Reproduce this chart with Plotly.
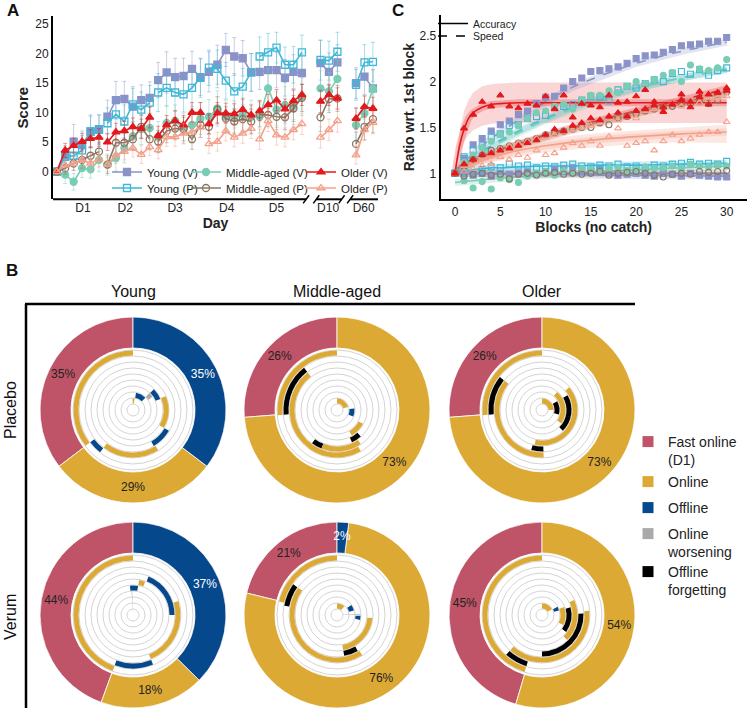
import plotly.graph_objects as go

W, H = 750, 711
FONT = "Liberation Sans, Arial, sans-serif"


def fx(p):
    return p / W


def fy(p):
    return 1 - p / H


def rgba(hexc, a):
    h = hexc.lstrip("#")
    return "rgba(%d,%d,%d,%s)" % (int(h[0:2], 16), int(h[2:4], 16), int(h[4:6], 16), a)


# ---------------- colours ----------------
C_YV = "#8b92c8"
C_YP = "#3fb7d6"
C_MV = "#79cdb4"
C_MP = "#8a7662"
C_OV = "#e3191c"
C_OP = "#f4a18b"
C_FAST = "#bf5468"
C_ON = "#dca935"
C_OFF = "#06488c"
C_WOR = "#aaaaaa"
C_FORG = "#000000"

# ---------------- Panel A data ----------------
group_names = ["Young (V)", "Young (P)", "Middle-aged (V)", "Middle-aged (P)", "Older (V)", "Older (P)"]
session_x = [[0, 1, 2, 3, 4, 5], [6, 7, 8, 9, 10, 11], [12, 13, 14, 15, 16, 17],
             [18, 19, 20, 21, 22, 23], [24, 25, 26, 27, 28, 29],
             [31.2, 32.2, 33.2], [35.4, 36.4, 37.4]]
day_labels = ["D1", "D2", "D3", "D4", "D5", "D10", "D60"]
day_tick_pos = [3.1, 8.1, 14.0, 20.1, 26.0, 32.1, 36.3]

score_young_v = [[0, 2.6, 5.1, 4.5, 6.8, 7.2], [9.3, 12.1, 12.3, 11.0, 12.1, 12.5],
                 [15.5, 16.8, 16.0, 16.2, 17.4, 16.0], [16.9, 18.1, 20.6, 19.5, 19.2, 16.8],
                 [16.9, 17.2, 17.2, 15.9, 16.9, 16.7], [18.4, 16.9, 18.5], [15.0, 16.1, 14.1]]
score_young_p = [[0, 2.5, 2.7, 3.6, 6.8, 7.1], [8.2, 9.7, 8.5, 11.4, 10.5, 11.7],
                 [13.4, 14.2, 13.4, 13.1, 14.2, 15.9], [17.6, 17.4, 15.4, 13.6, 14.4, 16.8],
                 [19.5, 20.2, 21.0, 18.1, 18.1, 20.2], [18.9, 18.8, 20.3], [14.7, 18.5, 18.6]]
score_middle_v = [[0, -0.5, -1.7, 0.6, 0.4, 2.0], [1.2, 2.3, 4.0, 6.0, 7.2, 7.4],
                  [5.9, 8.2, 8.6, 7.3, 7.9, 9.0], [9.3, 10.7, 9.3, 9.3, 9.6, 9.3],
                  [9.3, 14.1, 10.5, 11.3, 11.0, 12.7], [14.1, 13.6, 15.7], [7.9, 9.9, 14.0]]
score_middle_p = [[0, 0.6, 1.4, 2.0, 2.7, 3.4], [1.2, 4.9, 4.9, 5.5, 7.6, 5.5],
                  [5.1, 6.9, 7.3, 7.2, 5.5, 7.9], [7.6, 10.5, 9.0, 8.5, 8.9, 8.5],
                  [9.7, 9.6, 9.3, 9.2, 10.7, 12.5], [9.2, 12.3, 12.4], [4.7, 7.6, 8.9]]
score_older_v = [[0, 3.6, 4.4, 5.1, 5.6, 5.8], [5.0, 6.7, 6.9, 7.6, 7.3, 9.2],
                 [6.1, 7.9, 8.6, 7.9, 10.0, 10.0], [8.1, 9.9, 9.9, 9.8, 10.5, 9.6],
                 [10.3, 11.3, 12.1, 10.6, 12.0, 13.0], [11.9, 13.0, 12.4], [9.0, 11.0, 10.7]]
score_older_p = [[0, 1.1, 1.4, 2.0, 1.4, 2.1], [1.2, 2.8, 3.4, 4.0, 2.9, 4.2],
                 [3.7, 5.9, 5.9, 6.5, 6.7, 7.5], [4.7, 5.1, 6.9, 5.8, 6.5, 7.3],
                 [5.5, 8.6, 6.2, 5.8, 7.1, 8.1], [5.8, 7.1, 8.6], [2.8, 7.1, 8.3]]

err_young_v = [[0, 1.8, 2.9, 2.4, 2.6, 2.4], [2.8, 3.2, 3.0, 3.1, 2.6, 2.7], [3.0, 3.5, 3.2, 3.0, 3.0, 3.1],
               [3.4, 3.3, 2.8, 3.2, 3.0, 3.2], [3.0, 3.2, 3.0, 3.1, 2.9, 3.2], [3.8, 3.2, 3.0], [2.6, 3.0, 3.2]]
err_young_p = [[0, 1.5, 2.0, 2.5, 2.8, 2.5], [2.6, 3.0, 2.8, 3.0, 3.0, 2.9], [3.2, 3.0, 3.1, 3.0, 3.2, 3.3],
               [3.0, 3.2, 3.1, 3.0, 3.1, 3.2], [3.3, 3.2, 2.6, 3.0, 3.1, 2.9], [3.4, 3.3, 3.3], [2.6, 3.0, 3.3]]
err_middle_v = [[0, 1.5, 1.4, 1.6, 1.5, 2.0], [1.8, 2.2, 2.5, 2.4, 2.6, 2.5], [2.6, 2.8, 2.7, 2.6, 2.8, 2.7],
                [2.9, 3.0, 2.8, 2.7, 2.9, 2.8], [2.8, 3.4, 3.0, 3.1, 3.0, 3.2], [3.0, 3.2, 3.1], [2.8, 3.0, 3.2]]
err_middle_p = [[0, 1.0, 1.2, 1.4, 1.5, 1.6], [1.5, 1.8, 1.7, 1.9, 2.0, 1.8], [1.9, 2.0, 1.9, 2.0, 1.7, 2.1],
                [2.0, 2.2, 2.0, 2.1, 2.0, 2.1], [2.1, 2.0, 2.2, 2.1, 2.2, 2.3], [2.4, 2.3, 2.2], [2.0, 2.2, 2.3]]
err_older_v = [[0, 1.2, 1.3, 1.4, 1.5, 1.5], [1.4, 1.5, 1.6, 1.5, 1.6, 1.7], [1.6, 1.6, 1.7, 1.6, 1.7, 1.7],
               [1.7, 1.8, 1.7, 1.7, 1.8, 1.7], [1.7, 1.8, 1.8, 1.7, 1.8, 1.8], [1.9, 1.8, 1.8], [1.8, 1.8, 1.9]]
err_older_p = [[0, 1.0, 1.1, 1.2, 1.2, 1.3], [1.2, 1.4, 1.4, 1.5, 1.5, 1.5], [1.5, 1.6, 1.6, 1.7, 1.6, 1.7],
               [1.6, 1.6, 1.7, 1.6, 1.7, 1.7], [1.7, 1.8, 1.7, 1.6, 1.7, 1.8], [1.8, 1.8, 1.9], [1.5, 1.8, 1.9]]

# ---------------- Panel C data ----------------
block_x = list(range(31))
speed_young_v = [1.0, 1.16, 1.31, 1.38, 1.46, 1.53, 1.57, 1.64, 1.68, 1.76, 1.83, 1.84, 1.93, 2.0, 2.04, 2.11,
                 2.12, 2.14, 2.16, 2.2, 2.25, 2.28, 2.29, 2.32, 2.35, 2.39, 2.4, 2.41, 2.44, 2.44, 2.48]
acc_young_v = [1.0, 0.99, 0.98, 1.0, 0.97, 1.0, 0.99, 1.0, 1.01, 1.0, 1.02, 1.04, 1.05, 1.06, 1.03, 1.02,
               1.04, 1.0, 0.98, 0.99, 1.0, 0.98, 0.97, 1.0, 0.99, 0.97, 1.0, 0.98, 0.97, 0.96, 0.96]
speed_young_p = [1.0, 1.18, 1.25, 1.3, 1.4, 1.43, 1.52, 1.53, 1.6, 1.62, 1.63, 1.72, 1.73, 1.75, 1.8, 1.84,
                 1.83, 1.79, 1.91, 1.95, 1.93, 1.98, 2.02, 2.0, 2.09, 2.11, 2.08, 2.13, 2.07, 2.12, 2.15]
acc_young_p = [1.0, 1.02, 1.0, 1.04, 1.07, 1.06, 1.1, 1.08, 1.09, 1.06, 1.08, 1.07, 1.09, 1.1, 1.08, 1.07,
               1.09, 1.08, 1.1, 1.07, 1.08, 1.06, 1.09, 1.08, 1.1, 1.11, 1.12, 1.1, 1.11, 1.1, 1.13]
speed_middle_v = [1.0, 1.12, 1.2, 1.28, 1.35, 1.42, 1.45, 1.52, 1.6, 1.66, 1.68, 1.73, 1.75, 1.7, 1.8, 1.85,
                  1.85, 1.9, 1.88, 1.95, 2.0, 1.98, 2.02, 2.07, 2.1, 2.0, 2.18, 2.14, 2.12, 2.15, 2.24]
acc_middle_v = [1.0, 0.92, 0.84, 0.91, 0.83, 0.95, 0.93, 0.9, 0.97, 1.0, 1.02, 0.98, 1.03, 1.0, 1.05, 1.04,
                1.02, 1.05, 1.06, 1.03, 1.04, 1.07, 1.05, 1.06, 1.08, 1.05, 1.1, 1.08, 1.07, 1.09, 1.08]
speed_middle_p = [1.0, 1.08, 1.15, 1.2, 1.25, 1.27, 1.3, 1.33, 1.35, 1.38, 1.42, 1.44, 1.46, 1.48, 1.5, 1.5,
                  1.55, 1.53, 1.6, 1.62, 1.65, 1.68, 1.7, 1.72, 1.73, 1.76, 1.76, 1.78, 1.76, 1.8, 1.89]
acc_middle_p = [1.0, 0.97, 0.99, 1.0, 0.98, 0.99, 0.94, 0.99, 1.0, 0.98, 1.0, 1.01, 0.99, 1.0, 0.99, 1.0,
                1.02, 0.98, 1.0, 1.01, 1.02, 1.0, 0.98, 0.96, 0.99, 1.0, 0.99, 1.02, 1.01, 1.02, 1.03]
speed_older_v = [1.0, 1.1, 1.15, 1.2, 1.22, 1.25, 1.27, 1.3, 1.33, 1.36, 1.42, 1.48, 1.46, 1.52, 1.55, 1.6,
                 1.58, 1.62, 1.66, 1.62, 1.68, 1.7, 1.74, 1.72, 1.75, 1.8, 1.78, 1.83, 1.86, 1.88, 1.9]
acc_older_v = [1.0, 1.49, 1.64, 1.78, 1.73, 1.85, 1.73, 1.71, 1.76, 1.74, 1.84, 1.7, 1.85, 1.61, 1.76, 1.74,
               1.72, 1.85, 1.77, 1.78, 1.84, 1.91, 1.78, 1.67, 1.75, 1.86, 1.72, 1.89, 1.75, 1.88, 1.93]
speed_older_p = [1.0, 1.08, 1.12, 1.18, 1.22, 1.25, 1.3, 1.33, 1.35, 1.38, 1.4, 1.42, 1.45, 1.47, 1.5, 1.52,
                 1.55, 1.6, 1.58, 1.62, 1.6, 1.68, 1.7, 1.72, 1.75, 1.73, 1.78, 1.77, 1.8, 1.82, 1.84]
acc_older_p = [1.0, 1.02, 1.05, 1.08, 1.1, 1.18, 1.15, 1.2, 1.17, 1.25, 1.2, 1.22, 1.28, 1.33, 1.3, 1.35,
               1.3, 1.4, 1.49, 1.3, 1.33, 1.35, 1.25, 1.35, 1.42, 1.35, 1.38, 1.42, 1.45, 1.45, 1.56]

fit_x = [0, 0.5, 1, 1.5, 2, 3, 4, 5, 7, 10, 13, 16, 20, 25, 30]
fit_speed_young_v = [1.0, 1.07, 1.12, 1.17, 1.22, 1.3, 1.38, 1.45, 1.58, 1.78, 1.94, 2.06, 2.2, 2.33, 2.43]
fit_speed_young_p = [1.0, 1.05, 1.09, 1.13, 1.17, 1.24, 1.3, 1.36, 1.46, 1.6, 1.72, 1.82, 1.93, 2.04, 2.13]
fit_speed_middle_v = [1.0, 1.05, 1.09, 1.13, 1.16, 1.22, 1.28, 1.34, 1.44, 1.58, 1.7, 1.8, 1.92, 2.04, 2.14]
fit_speed_older_v = [1.0, 1.04, 1.07, 1.1, 1.13, 1.18, 1.22, 1.26, 1.32, 1.42, 1.5, 1.58, 1.68, 1.8, 1.92]
fit_speed_middle_p = [1.0, 1.04, 1.07, 1.1, 1.12, 1.17, 1.21, 1.25, 1.31, 1.4, 1.48, 1.56, 1.66, 1.77, 1.87]
fit_speed_older_p = [1.0, 1.04, 1.07, 1.09, 1.11, 1.16, 1.2, 1.24, 1.3, 1.39, 1.47, 1.55, 1.65, 1.76, 1.86]
fit_acc_older_v = [1.0, 1.3, 1.48, 1.6, 1.66, 1.72, 1.75, 1.76, 1.77, 1.77, 1.77, 1.77, 1.77, 1.77, 1.77]
band_lo_acc_older_v = [1.0, 1.2, 1.35, 1.42, 1.47, 1.52, 1.54, 1.55, 1.55, 1.55, 1.55, 1.55, 1.55, 1.55, 1.55]
band_hi_acc_older_v = [1.05, 1.45, 1.68, 1.8, 1.88, 1.95, 1.97, 1.98, 1.99, 1.99, 1.99, 1.99, 1.99, 1.99, 1.99]
fit_acc_older_p = [1.0, 1.03, 1.06, 1.08, 1.1, 1.14, 1.17, 1.2, 1.25, 1.3, 1.34, 1.37, 1.4, 1.43, 1.45]
band_lo_acc_older_p = [1.0, 1.01, 1.03, 1.05, 1.07, 1.1, 1.12, 1.14, 1.18, 1.23, 1.26, 1.29, 1.32, 1.34, 1.33]
band_hi_acc_older_p = [1.0, 1.05, 1.09, 1.11, 1.13, 1.18, 1.22, 1.25, 1.31, 1.37, 1.41, 1.44, 1.47, 1.5, 1.53]
fit_acc_young_p = [1.0, 1.01, 1.02, 1.03, 1.04, 1.05, 1.06, 1.06, 1.07, 1.08, 1.08, 1.09, 1.09, 1.1, 1.11]
fit_acc_middle_v = [0.9, 0.905, 0.91, 0.915, 0.92, 0.93, 0.94, 0.95, 0.96, 0.98, 1.0, 1.02, 1.04, 1.06, 1.08]
fit_acc_middle_p = [1.0, 1.0, 1.0, 1.0, 1.0, 1.0, 1.0, 1.0, 1.0, 1.0, 1.0, 1.0, 1.0, 1.0, 1.0]
fit_acc_young_v = [1.0, 1.0, 1.0, 1.0, 0.995, 0.995, 0.99, 0.99, 0.99, 0.99, 0.985, 0.98, 0.98, 0.975, 0.97]

# ---------------- Panel B data ----------------
# order of cells: Young placebo, Middle placebo, Older placebo, Young verum, Middle verum, Older verum
cell_centers = [(133, 410), (337, 410), (542, 410), (133, 615), (337, 615), (542, 615)]
pct_fast_online = [35, 26, 26, 44, 21, 45]
pct_online = [29, 73, 73, 18, 76, 54]
pct_offline = [35, 0, 0, 37, 2, 0]
# spiral segments: (track_from, track_to, start_deg, end_deg, kind), angles counter-clockwise from 12 o'clock
spiral_young_placebo = [(9, 9, 0, 127, "on"), (8, 8, 127, 142, "off"), (7, 7, 142, 212, "on"),
                        (6, 6, 210, 240, "off"), (5, 5, 240, 293, "on"), (4, 4, 292, 315, "off"),
                        (3, 3, 304, 316, "wor"), (2, 2, 315, 350, "off"), (1, 1, 352, 362, "on")]
spiral_middle_placebo = [(9, 9, 0, 95, "on"), (8, 8, 38, 95, "forg"), (7, 7, 38, 210, "on"),
                         (6, 6, 143, 158, "forg"), (6, 6, 158, 215, "on"), (5, 5, 205, 222, "forg"),
                         (4, 4, 210, 242, "on"), (2, 2, 248, 275, "off"), (1, 1, 285, 360, "on")]
spiral_older_placebo = [(9, 9, 0, 95, "on"), (8, 8, 52, 95, "forg"), (7, 7, 52, 182, "on"),
                        (6, 6, 165, 182, "forg"), (5, 5, 168, 310, "on"), (4, 4, 225, 300, "forg"),
                        (3, 3, 235, 320, "on"), (2, 2, 255, 300, "forg"), (1, 1, 270, 360, "on")]
spiral_young_verum = [(9, 9, 0, 160, "on"), (8, 8, 160, 202, "off"), (7, 7, 202, 287, "on"),
                      (6, 6, 270, 338, "off"), (5, 5, 340, 350, "on"), (4, 4, 350, 366, "off"),
                      (0, 3, 2, 3.5, "wor")]
spiral_middle_verum = [(9, 9, 0, 77, "on"), (8, 8, 55, 80, "forg"), (7, 7, 55, 212, "on"),
                       (6, 6, 190, 210, "forg"), (5, 5, 190, 265, "on"), (3, 3, 258, 268, "off"),
                       (1, 3, 270, 272, "wor"), (2, 2, 285, 305, "off"), (1, 1, 320, 360, "on")]
spiral_older_verum = [(9, 9, 0, 163, "on"), (8, 8, 138, 163, "forg"), (7, 7, 138, 275, "on"),
                      (6, 6, 180, 272, "forg"), (5, 5, 225, 295, "on"), (4, 4, 235, 285, "forg"),
                      (3, 3, 245, 290, "on"), (2, 2, 285, 298, "off"), (1, 1, 300, 360, "on")]
spirals = [spiral_young_placebo, spiral_middle_placebo, spiral_older_placebo,
           spiral_young_verum, spiral_middle_verum, spiral_older_verum]
legend_b_names = ["Fast online<br>(D1)", "Online", "Offline", "Online<br>worsening", "Offline<br>forgetting"]
legend_b_colors = [C_FAST, C_ON, C_OFF, C_WOR, C_FORG]
KIND_COLOR = {"on": C_ON, "off": C_OFF, "wor": C_WOR, "forg": C_FORG}

fig = go.Figure()
legend_layouts = {}

# ---------------- Panel A traces ----------------
A_series = [
    (group_names[0], score_young_v, err_young_v, C_YV, "square", (148, 172)),
    (group_names[1], score_young_p, err_young_p, C_YP, "square-open", (148, 188)),
    (group_names[2], score_middle_v, err_middle_v, C_MV, "circle", (227, 172)),
    (group_names[3], score_middle_p, err_middle_p, C_MP, "circle-open", (227, 188)),
    (group_names[4], score_older_v, err_older_v, C_OV, "triangle-up", (342, 172)),
    (group_names[5], score_older_p, err_older_p, C_OP, "triangle-up-open", (342, 188)),
]
lid = 0
for name, scores, errs, col, sym, (tx, ty) in A_series:
    xs, ys, es = [], [], []
    for sx, sv, se in zip(session_x, scores, errs):
        xs += list(sx) + [None]
        ys += list(sv) + [None]
        es += list(se) + [0]
    lid += 1
    lname = "legend" if lid == 1 else "legend%d" % lid
    fig.add_trace(go.Scatter(
        x=xs, y=ys, mode="lines+markers", name=name, legend=lname,
        line=dict(color=col, width=1.6),
        marker=dict(symbol=sym, size=7, color=col, line=dict(color=col, width=1.3)),
        error_y=dict(type="data", array=es, color=rgba(col, 0.45), thickness=1, width=2),
        xaxis="x", yaxis="y", hoverinfo="skip"))
    legend_layouts[lname] = dict(x=fx(tx - 41), y=fy(ty), xanchor="left", yanchor="middle",
                                 font=dict(size=11.5, family=FONT, color="#222"))

# ---------------- Panel C traces ----------------
bands = [
    (band_lo_acc_older_v, band_hi_acc_older_v, C_OV, 0.18),
    (band_lo_acc_older_p, band_hi_acc_older_p, C_OP, 0.25),
]
for lo, hi, col, a in bands:
    fig.add_trace(go.Scatter(x=fit_x + fit_x[::-1], y=hi + lo[::-1], fill="toself",
                             fillcolor=rgba(col, a), line=dict(width=0), mode="lines",
                             showlegend=False, hoverinfo="skip", xaxis="x2", yaxis="y2"))

fits = [
    (fit_speed_young_v, C_YV, "dash"), (fit_speed_young_p, C_YP, "dash"),
    (fit_speed_middle_v, C_MV, "dash"), (fit_speed_older_v, C_OV, "dash"),
    (fit_speed_middle_p, C_MP, "dash"), (fit_speed_older_p, C_OP, "dash"),
    (fit_acc_older_v, C_OV, "solid"), (fit_acc_older_p, C_OP, "solid"),
    (fit_acc_young_p, C_YP, "solid"), (fit_acc_middle_v, C_MV, "solid"),
    (fit_acc_middle_p, C_MP, "solid"), (fit_acc_young_v, C_YV, "solid"),
]
for fy_vals, col, dash in fits:
    # thin confidence shading around each fit
    fig.add_trace(go.Scatter(x=fit_x, y=fy_vals, mode="lines", line=dict(color=rgba(col, 0.25), width=7),
                             showlegend=False, hoverinfo="skip", xaxis="x2", yaxis="y2"))
    fig.add_trace(go.Scatter(x=fit_x, y=fy_vals, mode="lines", line=dict(color=col, width=1.6, dash=dash, shape="spline"),
                             showlegend=False, hoverinfo="skip", xaxis="x2", yaxis="y2"))

points = [
    (acc_young_v, C_YV, "square"), (speed_young_v, C_YV, "square"),
    (acc_young_p, C_YP, "square-open"), (speed_young_p, C_YP, "square-open"),
    (acc_middle_v, C_MV, "circle"), (speed_middle_v, C_MV, "circle"),
    (acc_middle_p, C_MP, "circle-open"), (speed_middle_p, C_MP, "circle-open"),
    (acc_older_p, C_OP, "triangle-up-open"), (speed_older_p, C_OP, "triangle-up-open"),
    (acc_older_v, C_OV, "triangle-up"), (speed_older_v, C_OV, "triangle-up"),
]
for vals, col, sym in points:
    fig.add_trace(go.Scatter(x=block_x, y=vals, mode="markers",
                             marker=dict(symbol=sym, size=6, color=col, line=dict(color=col, width=1.1)),
                             showlegend=False, hoverinfo="skip", xaxis="x2", yaxis="y2"))

for name, dash, ty in [("Accuracy", "solid", 23.5), ("Speed", "dash", 36)]:
    lid += 1
    lname = "legend%d" % lid
    fig.add_trace(go.Scatter(x=[None], y=[None], mode="lines", name=name, legend=lname,
                             line=dict(color="black", width=1.5, dash=dash), xaxis="x2", yaxis="y2"))
    legend_layouts[lname] = dict(x=fx(474 - 41), y=fy(ty), xanchor="left", yanchor="middle",
                                 font=dict(size=10.5, family=FONT, color="#222"))

# ---------------- Panel B traces ----------------
R_OUT = 93
for i, (cx, cy) in enumerate(cell_centers):
    sp = "polar" if i == 0 else "polar%d" % (i + 1)
    vals = [pct_fast_online[i], pct_online[i], pct_offline[i]]
    cols = [C_FAST, C_ON, C_OFF]
    tot = sum(vals)
    th, wd, cc, lab_th, lab_tx, lab_col = [], [], [], [], [], []
    start = 0.0
    for v, c in zip(vals, cols):
        if v <= 0:
            continue
        span = v / tot * 360.0
        th.append(start + span / 2)
        wd.append(span)
        cc.append(c)
        lab_th.append(start + span / 2)
        lab_tx.append("%d%%" % v)
        lab_col.append("white" if c == C_OFF else "#222")
        start += span
    fig.add_trace(go.Barpolar(r=[31] * len(th), base=[62] * len(th), theta=th, width=wd,
                              marker=dict(color=cc, line=dict(color="white", width=0.8)),
                              subplot=sp, showlegend=False, hoverinfo="skip"))
    s_th, s_wd, s_base, s_r, s_col = [], [], [], [], []
    for lo, hi, a0, a1, kind in spirals[i]:
        s_th.append((a0 + a1) / 2.0)
        s_wd.append(a1 - a0)
        s_base.append(6 * lo + 0.5)
        s_r.append(6 * (hi - lo) + 5)
        s_col.append(KIND_COLOR[kind])
    fig.add_trace(go.Barpolar(r=s_r, base=s_base, theta=s_th, width=s_wd,
                              marker=dict(color=s_col, line=dict(width=0)),
                              subplot=sp, showlegend=False, hoverinfo="skip"))
    fig.add_trace(go.Scatterpolar(r=[78] * len(lab_th), theta=lab_th, text=lab_tx, mode="text",
                                  textfont=dict(size=12, family=FONT, color=lab_col),
                                  subplot=sp, showlegend=False, hoverinfo="skip"))

legend_b_y = [441, 481, 507, 533, 571]
for name, col, ty in zip(legend_b_names, legend_b_colors, legend_b_y):
    lid += 1
    lname = "legend%d" % lid
    fig.add_trace(go.Scatter(x=[None], y=[None], mode="markers", name=name, legend=lname,
                             marker=dict(symbol="square", size=11, color=col), xaxis="x", yaxis="y"))
    legend_layouts[lname] = dict(x=fx(669 - 41), y=fy(ty - 15), xanchor="left", yanchor="top",
                                 valign="top", font=dict(size=14, family=FONT, color="#222"))

for k, v in legend_layouts.items():
    v.update(bgcolor="rgba(0,0,0,0)", borderwidth=0, itemwidth=30, tracegroupgap=0)

# ---------------- Layout ----------------
layout = dict(
    width=W, height=H, margin=dict(l=0, r=0, t=0, b=0),
    paper_bgcolor="white", plot_bgcolor="white",
    font=dict(family=FONT, size=12, color="#222"),
    xaxis=dict(domain=[fx(53), fx(378)], range=[-0.44, 38.0], showline=False, showgrid=False, zeroline=False,
               tickvals=day_tick_pos, ticktext=day_labels, ticks="", tickfont=dict(size=12),
               title=dict(text="<b>Day</b>", font=dict(size=14), standoff=2), anchor="y"),
    yaxis=dict(domain=[fy(199.3), fy(16)], range=[-4.67, 26.35], showline=True, linecolor="black",
               linewidth=2, showgrid=False, zeroline=False, tickvals=[0, 5, 10, 15, 20, 25], ticks="",
               tickfont=dict(size=12), title=dict(text="<b>Score</b>", font=dict(size=15), standoff=3),
               anchor="x"),
    xaxis2=dict(domain=[fx(440.7), fx(746.7)], range=[-1.58, 32.21], showline=True, linecolor="black",
                linewidth=2, showgrid=False, zeroline=False, tickvals=[0, 5, 10, 15, 20, 25, 30], ticks="",
                tickfont=dict(size=12), title=dict(text="<b>Blocks (no catch)</b>", font=dict(size=14), standoff=2),
                anchor="y2"),
    yaxis2=dict(domain=[fy(199.3), fy(15)], range=[0.717, 2.726], showline=True, linecolor="black",
                linewidth=2, showgrid=False, zeroline=False, tickvals=[1, 1.5, 2, 2.5],
                ticktext=["1", "1.5", "2", "2.5"], ticks="", tickfont=dict(size=12),
                title=dict(text="<b>Ratio wrt. 1st block</b>", font=dict(size=14), standoff=2), anchor="x2"),
)
for i, (cx, cy) in enumerate(cell_centers):
    sp = "polar" if i == 0 else "polar%d" % (i + 1)
    layout[sp] = dict(
        domain=dict(x=[fx(cx - R_OUT), fx(cx + R_OUT)], y=[fy(cy + R_OUT), fy(cy - R_OUT)]),
        bgcolor="white", hole=0,
        radialaxis=dict(range=[0, R_OUT], tickvals=[6, 12, 18, 24, 30, 36, 42, 48, 54, 60],
                        showticklabels=False, ticks="", showline=False, gridcolor="#d4d4d4", gridwidth=1),
        angularaxis=dict(rotation=90, direction="counterclockwise", showgrid=False, showticklabels=False,
                         ticks="", showline=False))
layout.update(legend_layouts)
fig.update_layout(**layout)

# broken x axis of panel A
axis_segments = [(-0.44, 29.5), (30.7, 33.7), (34.7, 38.0)]
shapes = []
for x0, x1 in axis_segments:
    shapes.append(dict(type="line", xref="x", yref="y domain", x0=x0, x1=x1, y0=0, y1=0,
                       line=dict(color="black", width=2)))
for xb in [29.5, 30.7, 33.7, 34.7]:
    shapes.append(dict(type="line", xref="x", yref="y domain", x0=xb - 0.35, x1=xb + 0.35, y0=-0.022, y1=0.022,
                       line=dict(color="black", width=1.5)))
# panel B frame
shapes.append(dict(type="line", xref="paper", yref="paper", x0=fx(26), x1=fx(26), y0=fy(304), y1=fy(708),
                   line=dict(color="black", width=2.5)))
shapes.append(dict(type="line", xref="paper", yref="paper", x0=fx(25), x1=fx(635), y0=fy(304), y1=fy(304),
                   line=dict(color="black", width=2.5)))
fig.update_layout(shapes=shapes)

annotations = [
    dict(text="<b>A</b>", x=fx(13), y=fy(11), font=dict(size=17)),
    dict(text="<b>C</b>", x=fx(398), y=fy(10), font=dict(size=17)),
    dict(text="<b>B</b>", x=fx(12), y=fy(270), font=dict(size=17)),
    dict(text="Young", x=fx(133), y=fy(292), font=dict(size=16)),
    dict(text="Middle-aged", x=fx(337), y=fy(292), font=dict(size=16)),
    dict(text="Older", x=fx(542), y=fy(292), font=dict(size=16)),
    dict(text="Placebo", x=fx(10), y=fy(410), font=dict(size=16), textangle=-90),
    dict(text="Verum", x=fx(10), y=fy(617), font=dict(size=16), textangle=-90),
]
for a in annotations:
    a.update(xref="paper", yref="paper", showarrow=False, xanchor="center", yanchor="middle")
    a["font"].update(family=FONT, color="#111")
fig.update_layout(annotations=annotations)

fig.write_html("out.html", config={"displayModeBar": False},
               post_script="document.body.style.margin='0px';document.body.style.padding='0px';")
